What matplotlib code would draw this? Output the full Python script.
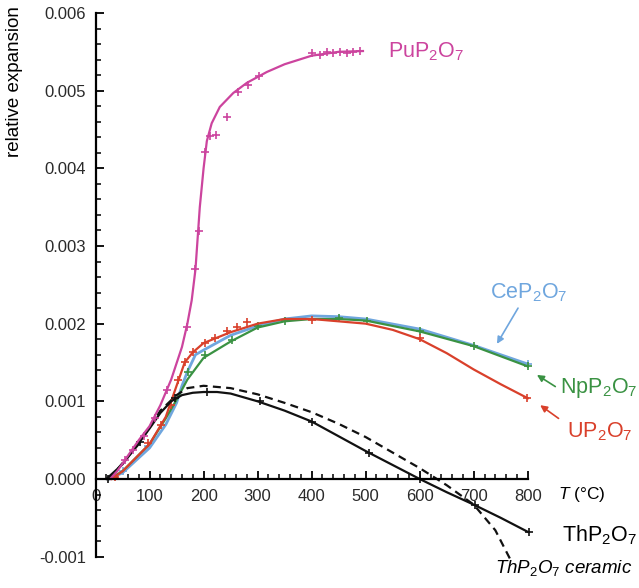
import numpy as np
import matplotlib
matplotlib.use('Agg')
import matplotlib.pyplot as plt
from matplotlib.ticker import FixedLocator, FormatStrFormatter

plt.rcParams['font.family'] = ['Liberation Sans', 'DejaVu Sans']
plt.rcParams['mathtext.fontset'] = 'custom'
plt.rcParams['mathtext.rm'] = 'Liberation Sans'
plt.rcParams['mathtext.it'] = 'Liberation Sans:italic'

# --- curves ---
pu_T = [27, 40, 60, 80, 100, 120, 140, 160, 170, 178, 185, 193, 200, 206, 215, 230, 255, 280, 317, 350, 400, 450, 495]
pu_v = [0, 0.0001, 0.0003, 0.0005, 0.00068, 0.00095, 0.00128, 0.0017, 0.002, 0.0023, 0.0027, 0.0035, 0.004,
        0.00435, 0.00458, 0.00479, 0.00497, 0.0051, 0.00524, 0.00534, 0.00545, 0.0055, 0.00551]
pu_mT = [55, 70, 90, 110, 132, 169, 184, 192, 203, 212, 223, 243, 263, 283, 303, 400, 415, 428, 440, 452, 465, 477, 490]
pu_mv = [0.00024, 0.00037, 0.00055, 0.00078, 0.00115, 0.00196, 0.00271, 0.00319, 0.00421, 0.00441, 0.00443, 0.00466,
         0.00498, 0.00507, 0.00519, 0.00548, 0.00546, 0.0055, 0.00548, 0.0055, 0.00549, 0.0055, 0.00551]

ce_T = [25, 50, 100, 130, 150, 160, 170, 185, 200, 250, 300, 350, 400, 450, 500, 600, 700, 800]
ce_v = [0, 0.00008, 0.0004, 0.0007, 0.00098, 0.0012, 0.00138, 0.0016, 0.00166, 0.00185, 0.00197, 0.00206,
        0.0021, 0.00209, 0.00206, 0.00193, 0.00172, 0.00148]
ce_mT = [50, 98, 800]
ce_mv = [0.0001, 0.00042, 0.00148]

np_T = [25, 50, 100, 130, 150, 170, 200, 250, 300, 350, 400, 450, 500, 600, 700, 800]
np_v = [0, 0.0001, 0.00045, 0.00078, 0.00102, 0.00128, 0.00156, 0.00177, 0.00195, 0.00203, 0.00206, 0.00206,
        0.00204, 0.0019, 0.00171, 0.00145]
np_mT = [172, 203, 252, 301, 351, 450, 502, 601, 700, 801]
np_mv = [0.00138, 0.0016, 0.00179, 0.00197, 0.00203, 0.00207, 0.00204, 0.0019, 0.00171, 0.00145]

u_T = [30, 50, 100, 130, 150, 165, 180, 200, 250, 300, 350, 400, 450, 500, 550, 600, 650, 700, 750, 800]
u_v = [0, 0.0001, 0.00045, 0.0008, 0.0012, 0.0015, 0.00163, 0.00175, 0.00189, 0.002, 0.00206, 0.00206, 0.00203,
       0.002, 0.00192, 0.0018, 0.00162, 0.00141, 0.00122, 0.00104]
u_mT = [36, 98, 122, 140, 153, 166, 181, 203, 221, 243, 261, 280, 400, 601, 798]
u_mv = [0.00002, 0.00046, 0.0007, 0.00095, 0.00127, 0.00151, 0.00164, 0.00175, 0.00181, 0.0019, 0.00196, 0.00202,
        0.00205, 0.00181, 0.00104]

th_T = [20, 50, 80, 100, 120, 140, 160, 180, 200, 225, 250, 300, 350, 400, 450, 500, 550, 600, 650, 700, 750, 800]
th_v = [0, 0.00019, 0.00046, 0.00065, 0.00085, 0.001, 0.00108, 0.00111, 0.00112, 0.00112, 0.0011, 0.001, 0.00088,
        0.00074, 0.00055, 0.00036, 0.00018, 0.0, -0.00017, -0.00033, -0.0005, -0.00068]
th_mT = [24, 82, 147, 206, 305, 400, 507, 601, 703, 802]
th_mv = [0, 0.00048, 0.00104, 0.00112, 0.001, 0.00074, 0.00034, 0.0, -0.00033, -0.00068]

cer_T = [25, 80, 120, 150, 170, 200, 250, 300, 350, 400, 450, 500, 550, 600, 650, 700, 740, 771]
cer_v = [0, 0.00045, 0.00088, 0.00108, 0.00117, 0.0012, 0.00117, 0.00109, 0.00098, 0.00086, 0.00071, 0.00054,
         0.00034, 0.00014, -0.00008, -0.00033, -0.00066, -0.00108]

c_pu = '#cc449e'
c_ce = '#6fa6de'
c_np = '#3a9243'
c_u = '#d9402b'
c_th = '#111111'

fig = plt.figure(figsize=(6.39, 5.88), dpi=100)
ax = fig.add_axes([0, 0, 1, 1])
ax.set_xlim(-176.8, 1005.9)
ax.set_ylim(-0.0014034, 0.006167)

for s in ['top', 'right']:
    ax.spines[s].set_visible(False)
ax.spines['left'].set_position(('data', 0))
ax.spines['bottom'].set_position(('data', 0))
ax.spines['left'].set_bounds(-0.001, 0.006)
ax.spines['bottom'].set_bounds(0, 800)
ax.spines['left'].set_linewidth(1.6)
ax.spines['bottom'].set_linewidth(1.6)

ax.xaxis.set_major_locator(FixedLocator(np.arange(0, 801, 100)))
ax.xaxis.set_minor_locator(FixedLocator(np.arange(20, 800, 20)))
ax.yaxis.set_major_locator(FixedLocator(np.arange(-0.001, 0.00601, 0.001)))
ax.yaxis.set_minor_locator(FixedLocator(np.arange(-0.001, 0.00601, 0.0002)))
ax.yaxis.set_major_formatter(FormatStrFormatter('%.3f'))
ax.tick_params(which='major', direction='in', length=6, width=1.3, labelsize=12, pad=7, labelcolor='#2a2a2a')
ax.tick_params(which='minor', direction='in', length=3.5, width=1.1)

mk = dict(ls='none', marker='+', ms=5.5, mew=1.2)
lw = 1.6

ax.plot(ce_T, ce_v, color=c_ce, lw=2.0)
ax.plot(ce_mT, ce_mv, color=c_ce, **mk)
ax.plot(np_T, np_v, color=c_np, lw=lw)
ax.plot(np_mT, np_mv, color=c_np, **mk)
ax.plot(u_T, u_v, color=c_u, lw=lw)
ax.plot(u_mT, u_mv, color=c_u, **mk)
ax.plot(cer_T, cer_v, color=c_th, lw=lw, dashes=(3.6, 2.4))
ax.plot(th_T, th_v, color=c_th, lw=lw)
ax.plot(th_mT, th_mv, color=c_th, **mk)
ax.plot(pu_T, pu_v, color=c_pu, lw=lw)
ax.plot(pu_mT, pu_mv, color=c_pu, **mk)

# labels
ax.text(541, 0.0055, r'PuP$_2$O$_7$', color=c_pu, fontsize=15.5, ha='left', va='center')
ax.text(802, 0.002395, r'CeP$_2$O$_7$', color=c_ce, fontsize=15.5, ha='center', va='center')
ax.text(860, 0.00117, r'NpP$_2$O$_7$', color=c_np, fontsize=15.5, ha='left', va='center')
ax.text(873, 0.000605, r'UP$_2$O$_7$', color=c_u, fontsize=15.5, ha='left', va='center')
ax.text(863, -0.00072, r'ThP$_2$O$_7$', color='black', fontsize=15.5, ha='left', va='center')
ax.text(739, -0.001146, r'$\mathit{ThP_2O_7}$ ceramic', color='black', fontsize=13.5,
        fontstyle='italic', ha='left', va='center')
ax.text(856, -0.000206, r'$\mathit{T}$ (°C)', color='black', fontsize=12.5, ha='left', va='center')

arw = dict(arrowstyle='-|>', lw=1.2, mutation_scale=10, shrinkA=0, shrinkB=0)
ax.annotate('', xy=(743, 0.00174), xytext=(782, 0.0022), arrowprops=dict(color=c_ce, **arw))
ax.annotate('', xy=(817, 0.00134), xytext=(851, 0.00119), arrowprops=dict(color=c_np, **arw))
ax.annotate('', xy=(823, 0.00095), xytext=(857, 0.00078), arrowprops=dict(color=c_u, **arw))

fig.text(15 / 639, 1 - 82 / 588, 'relative expansion', rotation=90, ha='center', va='center', fontsize=13.5)

fig.savefig('out.png', dpi=100)
